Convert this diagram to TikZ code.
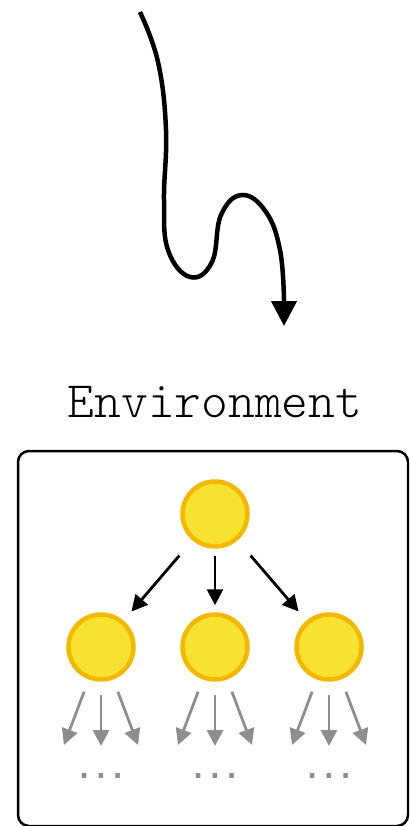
\documentclass[tikz,border=0pt]{standalone}
\usepackage{fontspec}
\newfontfamily\dotfont{DejaVu Sans Mono}
\newfontfamily\courierlike{Latin Modern Mono Light}
\usetikzlibrary{arrows.meta}
\definecolor{circfill}{HTML}{F8E231}
\definecolor{circline}{HTML}{F5B800}
\definecolor{arrgray}{HTML}{8E8E8E}
\begin{document}
\begin{tikzpicture}[x=1pt,y=-1pt,
  ball/.style={circle,draw=circline,fill=circfill,line width=4.5pt,minimum size=65pt,inner sep=0pt},
  blackarr/.style={draw=black,line width=2.8pt,-{Triangle[length=16pt,width=16pt]}},
  grayarr/.style={draw=arrgray,line width=2.8pt,-{Triangle[length=16pt,width=16pt]},shorten <=13pt},
  dots/.style={text=arrgray,font=\dotfont\bfseries\fontsize{27.7}{30}\selectfont,inner sep=0pt}]
\useasboundingbox (0,0) rectangle (409,826);
\begin{scope}
\clip (0,0) rectangle (409,826);
\draw[line width=2.5pt,rounded corners=11pt] (18,451) rectangle (408,826);
\end{scope}
% squiggly arrow
\draw[line width=4.5pt,-{Triangle[length=25pt,width=25pt]}] plot[smooth,tension=0.7] coordinates {(140,12) (158,62) (166,130) (164,200) (168,250) (190,277) (212,262) (221,215) (242,195) (266,212) (280,250) (284,300)} -- (284,326);
\node[font=\courierlike\fontsize{51}{56}\selectfont,inner sep=0pt] (env) at (215,402) {Environment};
\node[ball] (top) at (215,514) {};
\node[ball] (l1) at (101,647) {};
\node[ball] (l2) at (215,647) {};
\node[ball] (l3) at (329,647) {};
\draw[blackarr,shorten <=20pt,shorten >=12pt] (top) -- (l1);
\draw[blackarr,shorten <=7pt,shorten >=7pt] (top) -- (l2);
\draw[blackarr,shorten <=20pt,shorten >=12pt] (top) -- (l3);
\foreach \n/\x in {l1/101,l2/215,l3/329}{
  \coordinate (\n a) at (\x-37,745);
  \coordinate (\n b) at (\x,746);
  \coordinate (\n c) at (\x+37,745);
  \draw[grayarr] (\n) -- (\n a);
  \draw[grayarr] (\n) -- (\n b);
  \draw[grayarr] (\n) -- (\n c);
  \node[dots] (\n d) at (\x,776) {...};
}
\end{tikzpicture}
\end{document}
